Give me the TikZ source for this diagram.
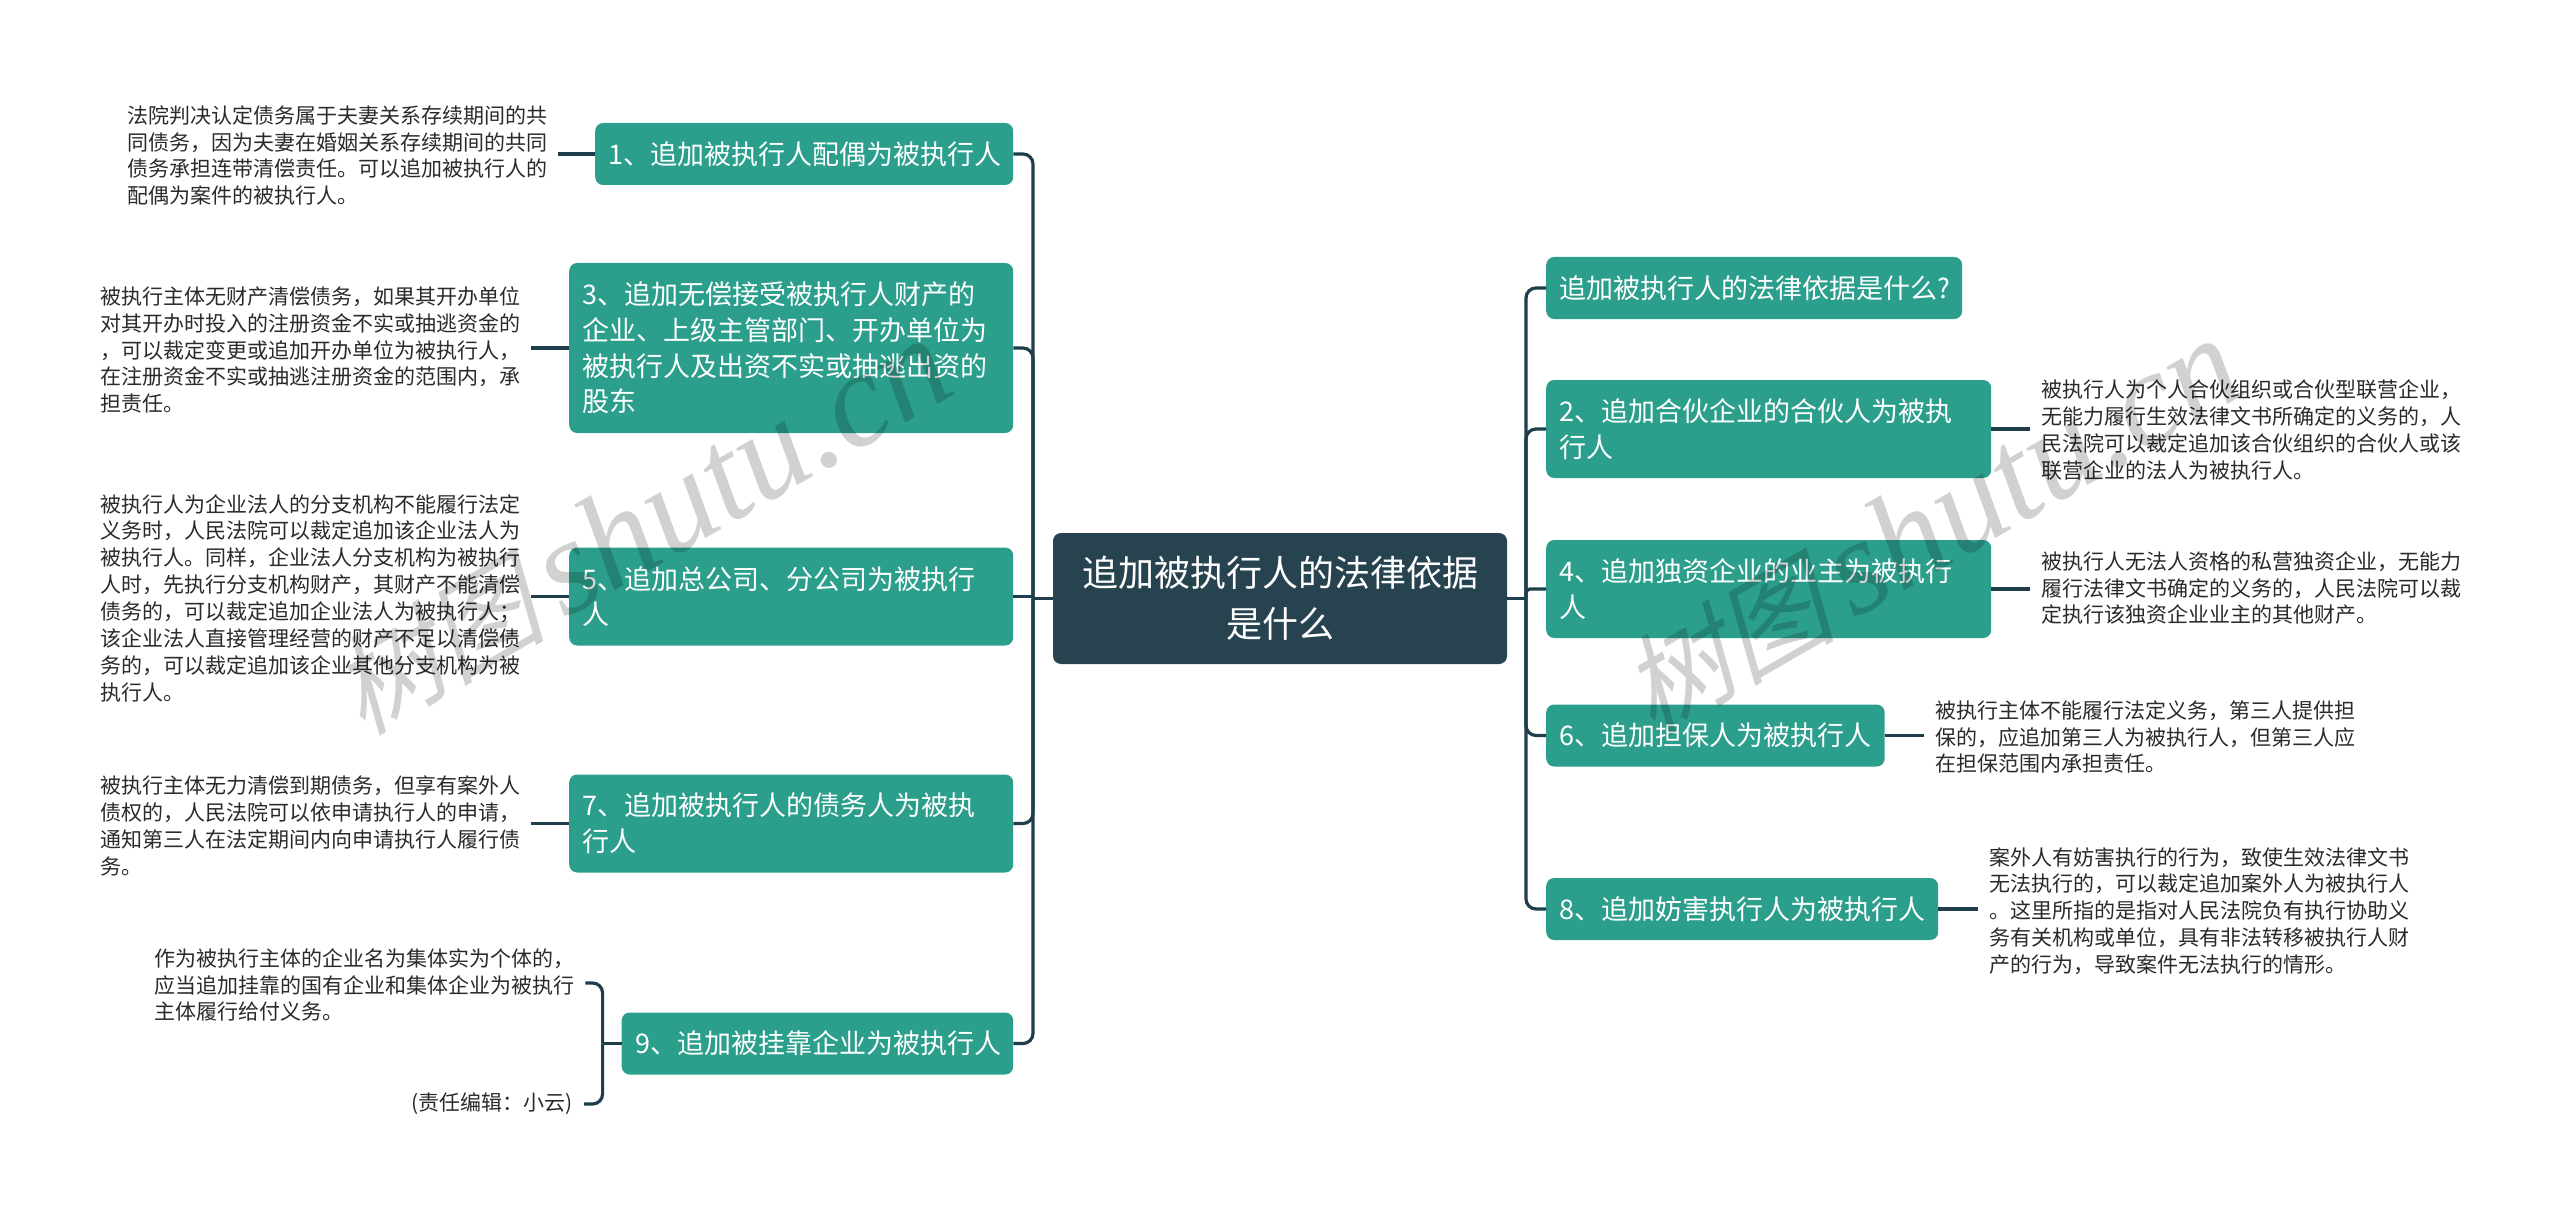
\documentclass[tikz,border=0pt]{standalone}
\usepackage{fontspec}
\setmainfont{Noto Sans CJK SC}
\newfontfamily\wmcjk[FakeSlant=0.25]{Noto Sans CJK SC}
\newfontfamily\wmlat{Liberation Serif}
\definecolor{teal1}{HTML}{2B9F8C}
\definecolor{rootc}{HTML}{27434F}
\definecolor{linec}{HTML}{1F3E4C}
\definecolor{leaftxt}{HTML}{2A2A2A}
\tikzset{
  tbox/.style={fill=teal1,text=white,rounded corners=8,anchor=west,align=left,inner xsep=13.5,inner ysep=0,
    font=\fontsize{27}{35.7}\selectfont},
  rootbox/.style={fill=rootc,text=white,rounded corners=8,align=center,inner sep=0,
    font=\fontsize{36}{51}\selectfont},
  leaf/.style={text=leaftxt,anchor=west,align=left,inner xsep=11,inner ysep=0,
    font=\fontsize{21}{26.85}\selectfont},
  conn/.style={draw=linec,line width=3.2pt,rounded corners=10},
  wm/.style={text=black,opacity=.18,rotate=30,inner sep=0}
}
\newcommand{\wmtext}{{\fontsize{108}{108}\selectfont\wmcjk 树图}\kern 18pt{\fontsize{136}{136}\selectfont\wmlat\itshape shutu.cn}}
\begin{document}
\begin{tikzpicture}[x=1pt,y=-1pt]
\useasboundingbox (0,0) rectangle (2560,1217);
\fill[white] (0,0) rectangle (2560,1217);
% root
\node[rootbox,minimum width=454,minimum height=131] (root) at (1280,598.5) {追加被执行人的法律依据\\是什么};
% left branch boxes
\node[tbox,text width=391,minimum height=62] (b1) at (595,154) {1、追加被执行人配偶为被执行人};
\node[tbox,text width=417,minimum height=170] (b3) at (569,348) {3、追加无偿接受被执行人财产的\\企业、上级主管部门、开办单位为\\被执行人及出资不实或抽逃出资的\\股东};
\node[tbox,text width=417,minimum height=98] (b5) at (569,596.5) {5、追加总公司、分公司为被执行\\人};
\node[tbox,text width=417,minimum height=98] (b7) at (569,823.5) {7、追加被执行人的债务人为被执\\行人};
\node[tbox,text width=364.5,minimum height=62] (b9) at (621.5,1043.5) {9、追加被挂靠企业为被执行人};
% right branch boxes
\node[tbox,text width=389,minimum height=62] (r0) at (1546,288) {追加被执行人的法律依据是什么?};
\node[tbox,text width=418,minimum height=98] (r2) at (1546,429) {2、追加合伙企业的合伙人为被执\\行人};
\node[tbox,text width=418,minimum height=98] (r4) at (1546,589) {4、追加独资企业的业主为被执行\\人};
\node[tbox,text width=311.5,minimum height=62] (r6) at (1546,735.5) {6、追加担保人为被执行人};
\node[tbox,text width=365,minimum height=62] (r8) at (1546,909) {8、追加妨害执行人为被执行人};
% leaves
\node[leaf] (l1) at (116,155.5) {法院判决认定债务属于夫妻关系存续期间的共\\同债务，因为夫妻在婚姻关系存续期间的共同\\债务承担连带清偿责任。可以追加被执行人的\\配偶为案件的被执行人。};
\node[leaf] (l3) at (89,350) {被执行主体无财产清偿债务，如果其开办单位\\对其开办时投入的注册资金不实或抽逃资金的\\，可以裁定变更或追加开办单位为被执行人，\\在注册资金不实或抽逃注册资金的范围内，承\\担责任。};
\node[leaf] (l5) at (89,598) {被执行人为企业法人的分支机构不能履行法定\\义务时，人民法院可以裁定追加该企业法人为\\被执行人。同样，企业法人分支机构为被执行\\人时，先执行分支机构财产，其财产不能清偿\\债务的，可以裁定追加企业法人为被执行人；\\该企业法人直接管理经营的财产不足以清偿债\\务的，可以裁定追加该企业其他分支机构为被\\执行人。};
\node[leaf] (l7) at (89,826) {被执行主体无力清偿到期债务，但享有案外人\\债权的，人民法院可以依申请执行人的申请，\\通知第三人在法定期间内向申请执行人履行债\\务。};
\node[leaf] (l9a) at (143,985) {作为被执行主体的企业名为集体实为个体的，\\应当追加挂靠的国有企业和集体企业为被执行\\主体履行给付义务。};
\node[leaf,anchor=east] (l9b) at (584,1104) {(责任编辑：小云)};
\node[leaf] (lr2) at (2030,430) {被执行人为个人合伙组织或合伙型联营企业，\\无能力履行生效法律文书所确定的义务的，人\\民法院可以裁定追加该合伙组织的合伙人或该\\联营企业的法人为被执行人。};
\node[leaf] (lr4) at (2030,588) {被执行人无法人资格的私营独资企业，无能力\\履行法律文书确定的义务的，人民法院可以裁\\定执行该独资企业业主的其他财产。};
\node[leaf] (lr6) at (1924,737) {被执行主体不能履行法定义务，第三人提供担\\保的，应追加第三人为被执行人，但第三人应\\在担保范围内承担责任。};
\node[leaf] (lr8) at (1978,911) {案外人有妨害执行的行为，致使生效法律文书\\无法执行的，可以裁定追加案外人为被执行人\\。这里所指的是指对人民法院负有执行协助义\\务有关机构或单位，具有非法转移被执行人财\\产的行为，导致案件无法执行的情形。};
% trunks
\coordinate (tl) at (1033,598.5);
\coordinate (tr) at (1526,598.5);
\coordinate (br) at (602.6,1043.5);
\draw[conn] (root.west) -- (tl);
\draw[conn] (root.east) -- (tr);
\draw[conn] (b1.east) -| (tl);
\draw[conn] (b3.east) -| (tl);
\draw[conn] (b5.east) -- (b5.east -| tl);
\draw[conn] (b7.east) -| (tl);
\draw[conn] (b9.east) -| (tl);
\draw[conn] (r0.west) -| (tr);
\draw[conn] (r2.west) -| (tr);
\draw[conn,rounded corners=4] (r4.west) -| (tr);
\draw[conn] (r6.west) -| (tr);
\draw[conn] (r8.west) -| (tr);
\draw[conn] (b1.west) -- (b1.west -| l1.east);
\draw[conn] (b3.west) -- (b3.west -| l3.east);
\draw[conn] (b5.west) -- (b5.west -| l5.east);
\draw[conn] (b7.west) -- (b7.west -| l7.east);
\draw[conn] (b9.west) -- (br);
\draw[conn] ([yshift=2pt]l9a.east) -| (br);
\draw[conn] (l9b.east) -| (br);
\draw[conn] (r2.east) -- (r2.east -| lr2.west);
\draw[conn] (r4.east) -- (r4.east -| lr4.west);
\draw[conn] (r6.east) -- (r6.east -| lr6.west);
\draw[conn] (r8.east) -- (r8.east -| lr8.west);
% watermarks
\node[wm] (wm1) at (640,527) {\wmtext};
\node[wm] (wm2) at (1930,527) {\wmtext};
\end{tikzpicture}
\end{document}
